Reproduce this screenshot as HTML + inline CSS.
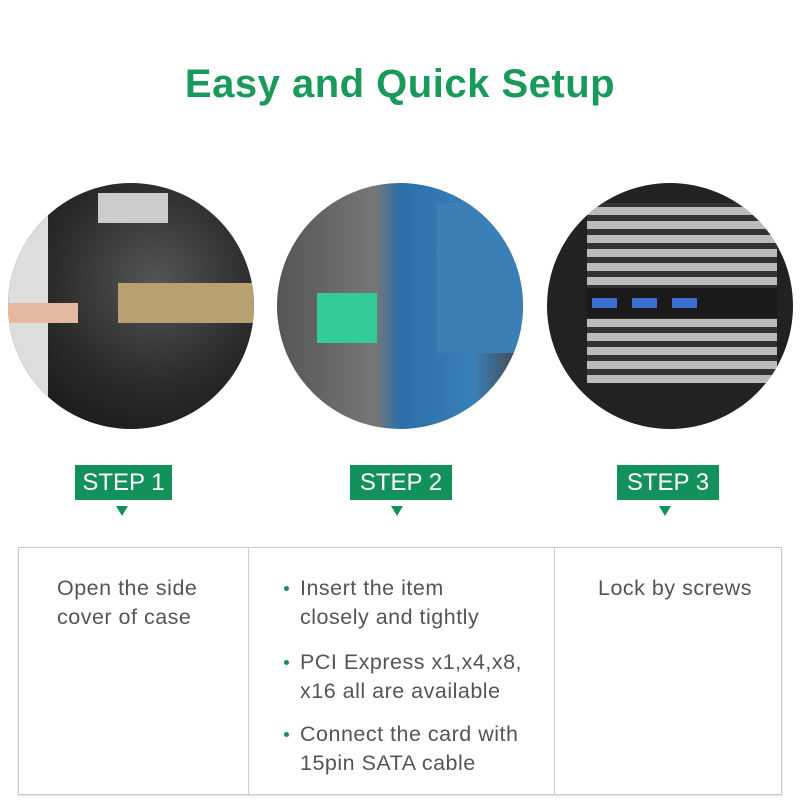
<!DOCTYPE html>
<html><head><meta charset="utf-8"><style>
body{margin:0;width:800px;height:800px;background:#fff;position:relative;overflow:hidden;font-family:"Liberation Sans",sans-serif}
.t{position:absolute;top:62px;left:0;width:800px;text-align:center;color:#1a9a5a;font-size:40px;font-weight:bold;letter-spacing:0.5px}
.c{position:absolute;top:183px;width:246px;height:246px;border-radius:50%;overflow:hidden}
.s{position:absolute;top:465px;height:35px;background:#13915a;color:#fff;font-size:24px;line-height:36px;text-align:center}
.tri{position:absolute;top:506px;width:0;height:0;border-left:6px solid transparent;border-right:6px solid transparent;border-top:10px solid #13915a}
.tbl{position:absolute;left:18px;top:547px;width:762px;height:246px;border:1px solid #ccc;box-shadow:0 1px 2px #ddd}
.d{position:absolute;top:0;width:1px;height:246px;background:#ccc}
.tx{position:absolute;color:#555;font-size:21.5px;line-height:28.5px;letter-spacing:0.5px;white-space:nowrap}
.b{position:absolute;width:5px;height:5px;border-radius:50%;background:#13915a}
</style></head><body>
<div class="t">Easy and Quick Setup</div>
<div class="c" style="left:8px;background:radial-gradient(circle at 60% 40%,#555 0,#2a2a2a 50%,#111 100%)">
<div style="position:absolute;left:0;top:0;width:40px;height:246px;background:#ddd"></div>
<div style="position:absolute;left:90px;top:10px;width:70px;height:30px;background:#ccc"></div>
<div style="position:absolute;left:110px;top:100px;width:140px;height:40px;background:#b8a070"></div>
<div style="position:absolute;left:0;top:120px;width:70px;height:20px;background:#e5b8a0"></div>
</div>
<div class="c" style="left:277px;background:linear-gradient(90deg,#555,#777 40%,#2a6fa8 50%,#3a80b8 80%,#444)">
<div style="position:absolute;left:160px;top:20px;width:90px;height:150px;background:#3a7fb5"></div>
<div style="position:absolute;left:40px;top:110px;width:60px;height:50px;background:#3c9"></div>
</div>
<div class="c" style="left:547px;background:#222">
<div style="position:absolute;left:40px;top:20px;width:190px;height:180px;background:repeating-linear-gradient(0deg,#bbb 0 8px,#333 8px 14px)"></div>
<div style="position:absolute;left:40px;top:105px;width:190px;height:30px;background:#1a1a1a"></div>
<div style="position:absolute;left:45px;top:115px;width:25px;height:10px;background:#3a6fd0"></div>
<div style="position:absolute;left:85px;top:115px;width:25px;height:10px;background:#3a6fd0"></div>
<div style="position:absolute;left:125px;top:115px;width:25px;height:10px;background:#3a6fd0"></div>
</div>
<div class="s" style="left:75px;width:97px">STEP 1</div>
<div class="s" style="left:350px;width:102px">STEP 2</div>
<div class="s" style="left:617px;width:102px">STEP 3</div>
<div class="tri" style="left:116px"></div>
<div class="tri" style="left:391px"></div>
<div class="tri" style="left:659px"></div>
<div class="tbl">
<div class="d" style="left:229px"></div>
<div class="d" style="left:535px"></div>
</div>
<div class="tx" style="left:57px;top:574px">Open the side<br>cover of case</div>
<div class="tx" style="left:598px;top:574px">Lock by screws</div>
<div class="b" style="left:284px;top:586px"></div>
<div class="b" style="left:284px;top:660px"></div>
<div class="b" style="left:284px;top:732px"></div>
<div class="tx" style="left:300px;top:574px">Insert the item<br>closely and tightly</div>
<div class="tx" style="left:300px;top:648px">PCI Express x1,x4,x8,<br>x16 all are available</div>
<div class="tx" style="left:300px;top:720px">Connect the card with<br>15pin SATA cable</div>
</body></html>
